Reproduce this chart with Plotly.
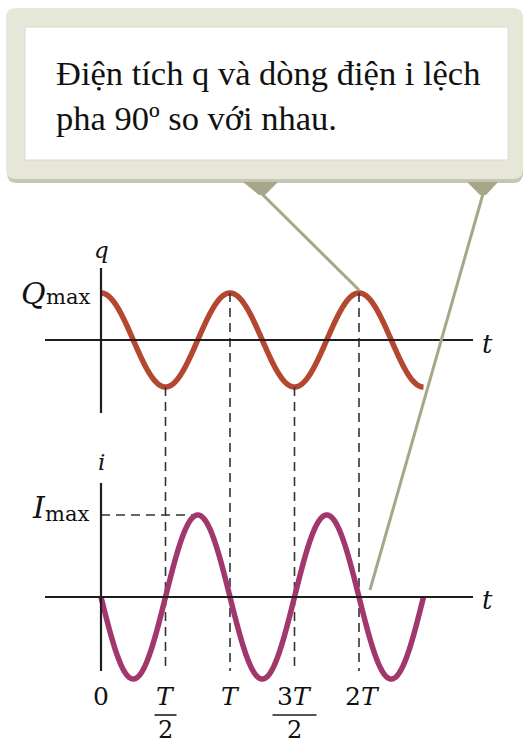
import numpy as np
import plotly.graph_objects as go

# ---- signal definition (time measured in periods) ----
period = 1.0
q_max = 1.0
i_max = 1.0
t_end = 2.5
tick_vals = [0.0, 0.5, 1.0, 1.5, 2.0]
tick_num = ["0", "<i>T</i>", "<i>T</i>", "3<i>T</i>", "2<i>T</i>"]
tick_den = [None, "2", None, "2", None]
callout_text = ["Điện tích q và dòng điện i lệch", "pha 90º so với nhau."]

# ---- page geometry (pixels) ----
W, H = 526, 748
X0, TPX = 101, 129          # x pixel of t = 0, pixels per period
Q_BASE, Q_AMP = 340, 47     # q-panel baseline and pixels per Qmax
I_BASE, I_AMP = 597, 82     # i-panel baseline and pixels per Imax

Q_COLOR = "#b3472f"
I_COLOR = "#a2376d"
AXIS = "#1e1e1e"
DASH = "#333333"
SERIF = "Liberation Serif, Times New Roman, DejaVu Serif, serif"
MATH = "DejaVu Serif, Liberation Serif, serif"


def tv(px):
    return (px - X0) / TPX


def qv(py):
    return (Q_BASE - py) / Q_AMP


def iv(py):
    return (I_BASE - py) / I_AMP


def q_in_i_units(v):
    return iv(Q_BASE - v * Q_AMP)


def px(x):
    return x / W


def py(y):
    return 1 - y / H


t = np.linspace(0, t_end * period, 1000)
q = q_max * np.cos(2 * np.pi * t / period)
i = -i_max * np.sin(2 * np.pi * t / period)

fig = go.Figure()

# dashed guides from the q extremes down to the t labels
gx, gy = [], []
for tk in tick_vals[1:]:
    top = q_max * np.cos(2 * np.pi * tk / period)
    gx += [tk, tk, None]
    gy += [q_in_i_units(top), iv(671), None]
gx += [0, 0.75 * period]
gy += [i_max, i_max]
fig.add_trace(go.Scatter(x=gx, y=gy, yaxis="y2", mode="lines",
                         line=dict(color=DASH, width=1.6, dash="9px,6px"),
                         hoverinfo="skip"))

fig.add_trace(go.Scatter(x=t, y=q, mode="lines",
                         line=dict(color=Q_COLOR, width=5.5, simplify=False),
                         hoverinfo="skip"))
fig.add_trace(go.Scatter(x=t, y=i, yaxis="y2", mode="lines",
                         line=dict(color=I_COLOR, width=5.5, simplify=False),
                         hoverinfo="skip"))

shapes = []
# axes of both panels
shapes.append(dict(type="line", xref="x", yref="y", x0=tv(45), x1=tv(473), y0=0, y1=0,
                   line=dict(color=AXIS, width=2.2)))
shapes.append(dict(type="line", xref="x", yref="y", x0=0, x1=0, y0=qv(413), y1=qv(268),
                   line=dict(color=AXIS, width=2.2)))
shapes.append(dict(type="line", xref="x", yref="y2", x0=tv(45), x1=tv(473), y0=0, y1=0,
                   line=dict(color=AXIS, width=2.2)))
shapes.append(dict(type="line", xref="x", yref="y2", x0=0, x1=0, y0=iv(671), y1=iv(483),
                   line=dict(color=AXIS, width=2.2)))

# fraction bars under T/2 and 3T/2
for tk, den, half in zip(tick_vals, tick_den, [0, 11, 0, 22, 0]):
    if den:
        shapes.append(dict(type="line", xref="x", yref="y2",
                           x0=tk - half / TPX, x1=tk + half / TPX,
                           y0=iv(715), y1=iv(715), line=dict(color=AXIS, width=1.6)))


def rounded(x0, y0, x1, y1, r):
    pts = [
        f"M {px(x0 + r)},{py(y0)}",
        f"L {px(x1 - r)},{py(y0)}",
        f"Q {px(x1)},{py(y0)} {px(x1)},{py(y0 + r)}",
        f"L {px(x1)},{py(y1 - r)}",
        f"Q {px(x1)},{py(y1)} {px(x1 - r)},{py(y1)}",
        f"L {px(x0 + r)},{py(y1)}",
        f"Q {px(x0)},{py(y1)} {px(x0)},{py(y1 - r)}",
        f"L {px(x0)},{py(y0 + r)}",
        f"Q {px(x0)},{py(y0)} {px(x0 + r)},{py(y0)} Z",
    ]
    return " ".join(pts)


def poly(points):
    return "M " + " L ".join(f"{px(a)},{py(b)}" for a, b in points) + " Z"


# callout box
shapes.append(dict(type="path", xref="paper", yref="paper", path=rounded(7, 11, 523, 183, 10),
                   fillcolor="#c6c6b2", line=dict(width=0), layer="above"))
shapes.append(dict(type="path", xref="paper", yref="paper", path=rounded(6, 8, 523, 179, 10),
                   fillcolor="#e6e6d9", line=dict(width=0), layer="above"))
shapes.append(dict(type="rect", xref="paper", yref="paper",
                   x0=px(25), x1=px(508), y0=py(160), y1=py(27),
                   fillcolor="white", line=dict(color="#dcdccc", width=1), layer="above"))

# pointer tabs and leader lines
POINTER = "#a7a688"
shapes.append(dict(type="path", xref="paper", yref="paper",
                   path=poly([(243, 182), (278, 182), (265, 195), (259, 195)]),
                   fillcolor=POINTER, line=dict(width=0), layer="above"))
shapes.append(dict(type="path", xref="paper", yref="paper",
                   path=poly([(467, 182), (498, 182), (486, 195), (480, 195)]),
                   fillcolor=POINTER, line=dict(width=0), layer="above"))
peak_t = 2.0 * period
shapes.append(dict(type="line", xref="paper", yref="paper",
                   x0=px(262), y0=py(194),
                   x1=px(X0 + peak_t * TPX), y1=py(Q_BASE - q_max * Q_AMP - 3),
                   line=dict(color=POINTER, width=3), layer="above"))
shapes.append(dict(type="line", xref="paper", yref="paper",
                   x0=px(483), y0=py(194),
                   x1=px(X0 + (peak_t + 0.085) * TPX), y1=py(I_BASE - 7),
                   line=dict(color=POINTER, width=3), layer="above"))

annotations = []


def label(text, x, y, size, xanchor="center", yref="y2", xref="x", family=MATH):
    annotations.append(dict(text=text, x=x, y=y, xref=xref, yref=yref, showarrow=False,
                            xanchor=xanchor, yanchor="middle",
                            font=dict(family=family, size=size, color="#111111")))


# callout sentence
label(callout_text[0], px(54), py(73), 34.5, xanchor="left", xref="paper", yref="paper",
      family=SERIF)
label(callout_text[1], px(54), py(118), 34.5, xanchor="left", xref="paper", yref="paper",
      family=SERIF)

# panel labels
label("<i>q</i>", 0, qv(250), 23, yref="y")
label("<i>Q</i>", tv(48), qv(293), 30, xanchor="right", yref="y")
label("max", tv(44), qv(297), 21, xanchor="left", yref="y")
label("<i>t</i>", tv(487), qv(344), 26, yref="y")

label("<i>i</i>", 0, iv(462), 23)
label("<i>I</i>", tv(48), iv(507), 30, xanchor="right")
label("max", tv(43), iv(514), 21, xanchor="left")
label("<i>t</i>", tv(487), iv(600), 26)

# t tick labels
for tk, num, den in zip(tick_vals, tick_num, tick_den):
    label(num, tk + (3 / TPX if num == "2<i>T</i>" else 0), iv(696), 25)
    if den:
        label(den, tk, iv(730), 24)

fig.update_layout(
    width=W, height=H,
    margin=dict(l=0, r=0, t=0, b=0),
    paper_bgcolor="white", plot_bgcolor="white",
    showlegend=False,
    xaxis=dict(range=[tv(0), tv(W)], domain=[0, 1], visible=False, fixedrange=True),
    yaxis=dict(range=[qv(H), qv(0)], domain=[0, 1], visible=False, fixedrange=True),
    yaxis2=dict(range=[iv(H), iv(0)], overlaying="y", visible=False, fixedrange=True),
    shapes=shapes,
    annotations=annotations,
)

fig.write_html("out.html", config={"displayModeBar": False})
